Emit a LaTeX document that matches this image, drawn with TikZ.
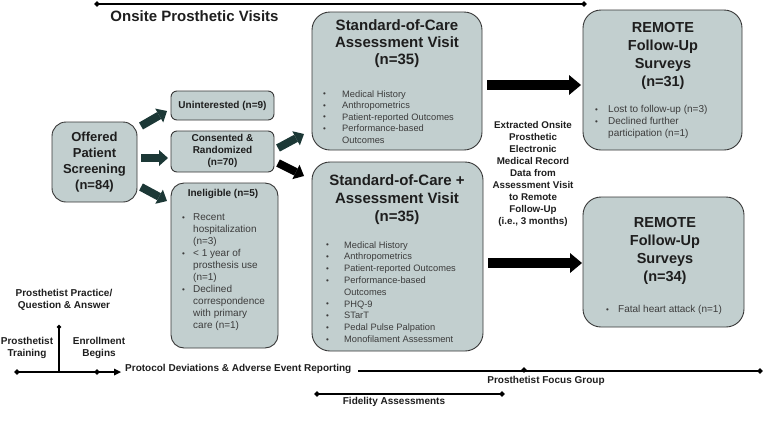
\documentclass[tikz,border=0pt]{standalone}
\usepackage{fontspec}
\setmainfont{Liberation Sans}
\usetikzlibrary{arrows.meta,shapes.geometric}
\definecolor{boxfill}{RGB}{194,207,207}
\definecolor{boxline}{RGB}{55,55,55}
\definecolor{tealarr}{RGB}{28,56,54}
\definecolor{txt}{RGB}{30,30,30}
\definecolor{btxt}{RGB}{60,60,60}
\newcommand{\fs}[2]{\fontsize{#1}{#2}\selectfont}
\newcommand{\bu}[1]{\makebox[#1][l]{\fontsize{8}{8}\selectfont\raisebox{0.4pt}{•}}}
\begin{document}
\begin{tikzpicture}[x=1pt,y=-1pt,
 box/.style={draw=boxline, line width=0.9pt, fill=boxfill, rounded corners=14pt, inner sep=0pt},
 ttl/.style={align=center, text=txt, inner sep=0pt},
 lst/.style={align=left, text=btxt, inner sep=0pt, anchor=west},
 tl/.style={align=center, font=\bfseries\fs{10}{12}, text=txt, inner sep=0pt},
 mk/.style={diamond, fill=black, inner sep=0pt, minimum size=6pt},
 tline/.style={line width=1.8pt, black},
 bigarr/.style={line width=9.5pt, -{Triangle[length=12pt,width=20pt,line width=0pt]}, black},
 smarr/.style={line width=8pt, -{Triangle[length=9pt,width=16pt,line width=0pt]}, tealarr},
]
\useasboundingbox (0,0) rectangle (782,432);

% --- boxes ---
\node[box, minimum width=85pt, minimum height=80pt] (off) at (94.5,162) {};
\node[ttl, font=\bfseries\fs{13}{16}] (offt) at (94.5,162) {Offered\\Patient\\Screening\\(n=84)};

\node[box, rounded corners=6pt, minimum width=103pt, minimum height=29pt] (unint) at (222.5,105.5) {};
\node[ttl, font=\bfseries\fs{10}{12}] (unintt) at (222.5,105.5) {Uninterested (n=9)};

\node[box, rounded corners=6pt, minimum width=103pt, minimum height=41pt] (cons) at (222.5,151.5) {};
\node[ttl, font=\bfseries\fs{10}{12}] (const) at (222.5,151) {Consented \&\\Randomized\\(n=70)};

\node[box, rounded corners=13pt, minimum width=107pt, minimum height=165pt] (inel) at (224.5,265.5) {};
\node[ttl, font=\bfseries\fs{10}{12}] (inelt) at (223,194) {Ineligible (n=5)};
\node[lst, font=\fs{10}{12}] (inell) at (182,272) {\bu{11pt}Recent\\\hspace*{11pt}hospitalization\\\hspace*{11pt}(n=3)\\\bu{11pt}< 1 year of\\\hspace*{11pt}prosthesis use\\\hspace*{11pt}(n=1)\\\bu{11pt}Declined\\\hspace*{11pt}correspondence\\\hspace*{11pt}with primary\\\hspace*{11pt}care (n=1)};

\node[box, rounded corners=18pt, minimum width=170pt, minimum height=138pt] (soc) at (397,81) {};
\node[ttl, font=\bfseries\fs{15}{17}] (soct) at (397,44) {Standard-of-Care\\Assessment Visit\\(n=35)};
\node[lst, font=\fs{9.3}{11.5}] (socl) at (323,117) {\bu{19pt}Medical History\\\bu{19pt}Anthropometrics\\\bu{19pt}Patient-reported Outcomes\\\bu{19pt}Performance-based\\\hspace*{19pt}Outcomes};

\node[box, rounded corners=18pt, minimum width=171pt, minimum height=189pt] (socp) at (397.5,256.5) {};
\node[ttl, font=\bfseries\fs{15}{18}] (socpt) at (397,200) {Standard-of-Care +\\Assessment Visit\\(n=35)};
\node[lst, font=\fs{9.3}{11.8}] (socpl) at (326,292) {\bu{18pt}Medical History\\\bu{18pt}Anthropometrics\\\bu{18pt}Patient-reported Outcomes\\\bu{18pt}Performance-based\\\hspace*{18pt}Outcomes\\\bu{18pt}PHQ-9\\\bu{18pt}STarT\\\bu{18pt}Pedal Pulse Palpation\\\bu{18pt}Monofilament Assessment};

\node[box, rounded corners=18pt, minimum width=159pt, minimum height=140pt] (rem1) at (662.5,80) {};
\node[ttl, font=\bfseries\fs{14.5}{18}] (rem1t) at (663,56) {REMOTE\\Follow-Up\\Surveys\\(n=31)};
\node[lst, font=\fs{10}{12}] (rem1l) at (595,122) {\bu{13pt}Lost to follow-up (n=3)\\\bu{13pt}Declined further\\\hspace*{13pt}participation (n=1)};

\node[box, rounded corners=18pt, minimum width=161pt, minimum height=130pt] (rem2) at (663.5,262) {};
\node[ttl, font=\bfseries\fs{14.5}{18}] (rem2t) at (665,250.5) {REMOTE\\Follow-Up\\Surveys\\(n=34)};
\node[lst, font=\fs{10}{12}] (rem2l) at (606,310) {\bu{12pt}Fatal heart attack (n=1)};

\node[tl, font=\bfseries\fs{9.8}{12}] (mid) at (533,174) {Extracted Onsite\\Prosthetic\\Electronic\\Medical Record\\Data from\\Assessment Visit\\to Remote\\Follow-Up\\(i.e., 3 months)};

% --- arrows ---
\coordinate (s1a) at (141,126); \coordinate (s1b) at (167,111);
\coordinate (s2a) at (141,158); \coordinate (s2b) at (168,158);
\coordinate (s3a) at (141,187); \coordinate (s3b) at (167,201);
\coordinate (s4a) at (278,148); \coordinate (s4b) at (304,134);
\coordinate (s5a) at (278,163); \coordinate (s5b) at (304,176);
\coordinate (g1a) at (487,85);  \coordinate (g1b) at (581,85);
\coordinate (g2a) at (488,263); \coordinate (g2b) at (582,263);
\draw[smarr] (s1a) -- (s1b);
\draw[smarr] (s2a) -- (s2b);
\draw[smarr] (s3a) -- (s3b);
\draw[smarr] (s4a) -- (s4b);
\draw[smarr, black] (s5a) -- (s5b);
\draw[bigarr] (g1a) -- (g1b);
\draw[bigarr] (g2a) -- (g2b);

% --- top timeline ---
\node[mk] (t1) at (97,4) {};
\node[mk] (t2) at (584,4) {};
\draw[tline] (t1.center) -- (t2.center);
\node[tl, font=\bfseries\fs{15}{18}] (onsite) at (194.5,16) {Onsite Prosthetic Visits};

% --- bottom timeline ---
\node[mk] (b1) at (17,372) {};
\node[mk] (b2) at (97,372) {};
\coordinate (bj) at (59,372);
\coordinate (b3) at (121,372);
\draw[tline, -{Triangle[length=7pt,width=7pt,line width=0pt]}] (b1.center) -- (b3);
\node[mk, minimum size=5pt] (bv) at (59,327) {};
\draw[tline] (bj) -- (bv.center);
\node[tl] (pq) at (64,300) {Prosthetist Practice/\\Question \& Answer};
\node[tl] (pt) at (27,348) {Prosthetist\\Training};
\node[tl] (eb) at (99,348) {Enrollment\\Begins};
\node[tl, anchor=west] (pd) at (125,369) {Protocol Deviations \& Adverse Event Reporting};

\coordinate (r1) at (358,371);
\node[mk] (r2) at (524,370) {};
\node[mk] (r3) at (760,371) {};
\draw[tline] (r1) -- (r3.center);
\node[tl] (fg) at (546,381) {Prosthetist Focus Group};

\node[mk] (f1) at (317,394) {};
\node[mk] (f2) at (502,394) {};
\draw[tline] (f1.center) -- (f2.center);
\node[tl] (fa) at (394,402) {Fidelity Assessments};
\end{tikzpicture}
\end{document}
